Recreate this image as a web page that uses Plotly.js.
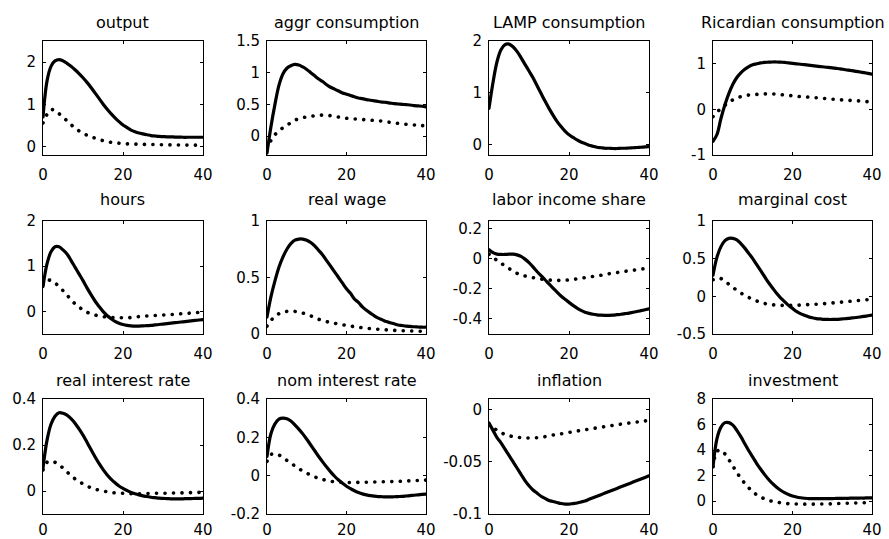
<!DOCTYPE html>
<html>
<head>
<meta charset="utf-8">
<script src="https://cdn.plot.ly/plotly-3.0.1.min.js"></script>
<style>
html,body{margin:0;padding:0;background:#fff;}
#chart{width:889px;height:539px;}
.scatterlayer path.js-line{stroke-linecap:round !important;}
</style>
</head>
<body>
<div id="chart"></div>
<script>
// ---------------- DATA ----------------
const periods = [0,1,2,3,4,5,6,7,8,9,10,11,12,13,14,15,16,17,18,19,20,21,22,23,24,25,26,27,28,29,30,31,32,33,34,35,36,37,38,39,40];

const titles = ["output","aggr consumption","LAMP consumption","Ricardian consumption",
                "hours","real wage","labor income share","marginal cost",
                "real interest rate","nom interest rate","inflation","investment"];

const outputSolid = [0.7,1.55,1.9,2.03,2.06,2.03,1.97,1.9,1.82,1.73,1.63,1.52,1.4,1.27,1.14,1.01,0.89,0.78,0.68,0.59,0.51,0.45,0.39,0.35,0.32,0.3,0.28,0.26,0.25,0.24,0.235,0.23,0.23,0.225,0.225,0.22,0.22,0.22,0.22,0.22,0.22];
const outputDot = [0.56,0.76,0.87,0.86,0.78,0.7,0.61,0.52,0.44,0.37,0.31,0.27,0.23,0.2,0.17,0.14,0.12,0.1,0.09,0.08,0.07,0.065,0.06,0.058,0.055,0.053,0.05,0.049,0.047,0.045,0.044,0.042,0.04,0.039,0.038,0.036,0.035,0.034,0.033,0.032,0.03];

const aggrSolid = [-0.27,0.15,0.5,0.8,0.98,1.07,1.11,1.13,1.12,1.09,1.05,1.0,0.95,0.9,0.86,0.81,0.77,0.74,0.71,0.68,0.66,0.64,0.62,0.6,0.59,0.575,0.565,0.555,0.545,0.535,0.53,0.52,0.51,0.505,0.5,0.495,0.49,0.48,0.475,0.47,0.46];
const aggrDot = [-0.2,-0.07,0.02,0.08,0.13,0.17,0.21,0.25,0.27,0.29,0.3,0.31,0.32,0.325,0.33,0.325,0.32,0.31,0.3,0.29,0.28,0.275,0.27,0.265,0.26,0.255,0.25,0.245,0.24,0.235,0.225,0.215,0.205,0.2,0.195,0.185,0.18,0.175,0.17,0.165,0.16];

const lampSolid = [0.7,1.2,1.6,1.83,1.93,1.94,1.89,1.8,1.68,1.55,1.42,1.29,1.14,0.99,0.84,0.7,0.57,0.45,0.35,0.26,0.19,0.14,0.09,0.05,0.02,-0.01,-0.03,-0.05,-0.06,-0.07,-0.07,-0.075,-0.075,-0.07,-0.07,-0.065,-0.06,-0.055,-0.05,-0.045,-0.04];
const lampDot = [];

const ricSolid = [-0.7,-0.55,-0.2,0.1,0.35,0.55,0.7,0.8,0.88,0.94,0.98,1.0,1.02,1.03,1.035,1.04,1.04,1.035,1.03,1.02,1.01,1.0,0.99,0.98,0.97,0.96,0.95,0.94,0.93,0.92,0.91,0.9,0.89,0.875,0.86,0.85,0.835,0.82,0.805,0.79,0.775];
const ricDot = [-0.16,-0.06,0.02,0.09,0.16,0.21,0.25,0.28,0.3,0.315,0.325,0.33,0.335,0.34,0.34,0.34,0.335,0.325,0.315,0.305,0.3,0.29,0.28,0.275,0.27,0.26,0.255,0.25,0.24,0.235,0.225,0.22,0.21,0.205,0.2,0.195,0.19,0.185,0.175,0.17,0.165];

const hoursSolid = [0.55,1.05,1.32,1.43,1.43,1.36,1.27,1.13,0.98,0.83,0.68,0.52,0.37,0.23,0.11,0.0,-0.09,-0.16,-0.22,-0.26,-0.29,-0.31,-0.32,-0.325,-0.325,-0.32,-0.315,-0.31,-0.3,-0.29,-0.28,-0.27,-0.26,-0.25,-0.24,-0.23,-0.22,-0.21,-0.2,-0.19,-0.18];
const hoursDot = [0.6,0.7,0.68,0.63,0.55,0.46,0.36,0.26,0.17,0.1,0.03,-0.02,-0.05,-0.08,-0.1,-0.115,-0.125,-0.135,-0.14,-0.14,-0.14,-0.14,-0.135,-0.125,-0.115,-0.11,-0.1,-0.095,-0.09,-0.085,-0.08,-0.075,-0.07,-0.065,-0.055,-0.05,-0.045,-0.035,-0.03,-0.02,-0.015];

const wageSolid = [0.15,0.33,0.47,0.59,0.68,0.75,0.8,0.83,0.84,0.84,0.83,0.81,0.78,0.74,0.7,0.65,0.6,0.55,0.5,0.45,0.4,0.36,0.31,0.28,0.24,0.21,0.185,0.16,0.14,0.125,0.11,0.1,0.09,0.08,0.075,0.07,0.067,0.064,0.062,0.06,0.06];
const wageDot = [0.07,0.12,0.155,0.18,0.195,0.2,0.205,0.2,0.195,0.185,0.175,0.16,0.145,0.13,0.12,0.11,0.1,0.095,0.088,0.082,0.076,0.07,0.065,0.06,0.056,0.052,0.048,0.045,0.042,0.04,0.037,0.034,0.032,0.03,0.029,0.028,0.027,0.026,0.025,0.024,0.023];

const laborSolid = [0.06,0.04,0.03,0.028,0.028,0.03,0.03,0.025,0.015,-0.003,-0.027,-0.055,-0.085,-0.113,-0.14,-0.168,-0.195,-0.222,-0.248,-0.27,-0.29,-0.31,-0.328,-0.343,-0.355,-0.363,-0.369,-0.373,-0.375,-0.376,-0.376,-0.375,-0.372,-0.369,-0.365,-0.361,-0.356,-0.351,-0.345,-0.339,-0.333];
const laborDot = [0.03,0.01,-0.012,-0.03,-0.048,-0.065,-0.082,-0.097,-0.108,-0.115,-0.12,-0.126,-0.131,-0.135,-0.139,-0.142,-0.143,-0.144,-0.144,-0.143,-0.141,-0.138,-0.134,-0.13,-0.126,-0.122,-0.118,-0.114,-0.11,-0.105,-0.1,-0.096,-0.092,-0.088,-0.084,-0.08,-0.077,-0.073,-0.069,-0.066,-0.063];

const mcSolid = [0.28,0.52,0.66,0.74,0.77,0.77,0.75,0.7,0.64,0.57,0.5,0.42,0.34,0.26,0.18,0.11,0.04,-0.02,-0.07,-0.12,-0.16,-0.2,-0.23,-0.25,-0.27,-0.285,-0.295,-0.3,-0.305,-0.307,-0.307,-0.305,-0.302,-0.298,-0.293,-0.287,-0.281,-0.274,-0.266,-0.258,-0.25];
const mcDot = [0.22,0.24,0.235,0.2,0.16,0.12,0.08,0.045,0.013,-0.015,-0.04,-0.062,-0.08,-0.095,-0.105,-0.112,-0.117,-0.12,-0.121,-0.121,-0.12,-0.118,-0.116,-0.113,-0.11,-0.107,-0.104,-0.1,-0.097,-0.093,-0.088,-0.083,-0.078,-0.073,-0.068,-0.063,-0.058,-0.053,-0.048,-0.044,-0.04];

const rirSolid = [0.1,0.22,0.29,0.325,0.34,0.338,0.33,0.315,0.295,0.27,0.243,0.212,0.18,0.149,0.12,0.094,0.071,0.052,0.036,0.022,0.011,0.002,-0.006,-0.012,-0.017,-0.021,-0.024,-0.027,-0.029,-0.031,-0.032,-0.033,-0.034,-0.034,-0.034,-0.034,-0.033,-0.033,-0.032,-0.032,-0.031];
const rirDot = [0.092,0.125,0.13,0.125,0.114,0.1,0.083,0.068,0.053,0.041,0.031,0.022,0.014,0.008,0.004,0.0,-0.003,-0.006,-0.008,-0.009,-0.01,-0.011,-0.012,-0.012,-0.012,-0.012,-0.011,-0.011,-0.01,-0.01,-0.01,-0.01,-0.009,-0.009,-0.009,-0.008,-0.008,-0.007,-0.007,-0.006,-0.006];

const nirSolid = [0.1,0.22,0.27,0.295,0.3,0.297,0.285,0.265,0.243,0.218,0.19,0.16,0.13,0.1,0.072,0.045,0.02,-0.003,-0.023,-0.04,-0.055,-0.068,-0.079,-0.088,-0.095,-0.1,-0.104,-0.107,-0.109,-0.11,-0.111,-0.111,-0.11,-0.109,-0.108,-0.106,-0.104,-0.102,-0.1,-0.098,-0.096];
const nirDot = [0.075,0.11,0.115,0.108,0.095,0.08,0.066,0.051,0.037,0.024,0.013,0.003,-0.006,-0.014,-0.02,-0.025,-0.029,-0.032,-0.034,-0.035,-0.036,-0.036,-0.036,-0.035,-0.035,-0.034,-0.034,-0.033,-0.033,-0.032,-0.032,-0.031,-0.031,-0.03,-0.029,-0.028,-0.027,-0.026,-0.025,-0.024,-0.023];

const inflSolid = [-0.013,-0.02,-0.027,-0.032,-0.038,-0.044,-0.05,-0.056,-0.062,-0.068,-0.073,-0.077,-0.08,-0.083,-0.085,-0.087,-0.088,-0.089,-0.09,-0.0905,-0.0905,-0.09,-0.0895,-0.0885,-0.0875,-0.086,-0.0845,-0.083,-0.0815,-0.08,-0.0785,-0.077,-0.0755,-0.074,-0.0725,-0.071,-0.0695,-0.068,-0.0665,-0.065,-0.0635];
const inflDot = [-0.014,-0.017,-0.02,-0.022,-0.024,-0.025,-0.026,-0.0265,-0.027,-0.0272,-0.0273,-0.0272,-0.027,-0.0265,-0.026,-0.0253,-0.0245,-0.0238,-0.0233,-0.0227,-0.022,-0.0213,-0.0207,-0.02,-0.0194,-0.0188,-0.0182,-0.0176,-0.017,-0.0164,-0.0158,-0.0152,-0.0146,-0.014,-0.0135,-0.013,-0.0125,-0.012,-0.0115,-0.011,-0.0105];

const invSolid = [2.7,4.9,5.8,6.15,6.15,5.95,5.55,5.05,4.5,3.95,3.45,2.95,2.5,2.08,1.7,1.37,1.09,0.86,0.67,0.52,0.41,0.33,0.27,0.23,0.21,0.2,0.2,0.2,0.2,0.21,0.21,0.22,0.22,0.23,0.23,0.24,0.24,0.25,0.25,0.26,0.26];
const invDot = [2.7,3.9,4.0,3.7,3.25,2.75,2.25,1.8,1.4,1.05,0.75,0.5,0.32,0.18,0.07,-0.01,-0.07,-0.12,-0.16,-0.19,-0.21,-0.22,-0.225,-0.23,-0.23,-0.23,-0.225,-0.22,-0.215,-0.21,-0.2,-0.19,-0.18,-0.17,-0.16,-0.15,-0.14,-0.13,-0.12,-0.11,-0.1];

const solidSeries = [outputSolid,aggrSolid,lampSolid,ricSolid,hoursSolid,wageSolid,laborSolid,mcSolid,rirSolid,nirSolid,inflSolid,invSolid];
const dotSeries   = [outputDot,aggrDot,lampDot,ricDot,hoursDot,wageDot,laborDot,mcDot,rirDot,nirDot,inflDot,invDot];

const yRanges = [[-0.2,2.5],[-0.3,1.5],[-0.2,2],[-1,1.5],[-0.5,2],[0,1],[-0.5,0.25],[-0.5,1],[-0.1,0.4],[-0.2,0.4],[-0.1,0.01],[-1,8]];
const yTickVals = [[0,1,2],[0,0.5,1,1.5],[0,1,2],[-1,0,1],[0,1,2],[0,0.5,1],[-0.4,-0.2,0,0.2],[-0.5,0,0.5,1],[0,0.2,0.4],[-0.2,0,0.2,0.4],[-0.1,-0.05,0],[0,2,4,6,8]];
const yTickText = [["0","1","2"],["0","0.5","1","1.5"],["0","1","2"],["-1","0","1"],["0","1","2"],["0","0.5","1"],["-0.4","-0.2","0","0.2"],["-0.5","0","0.5","1"],["0","0.2","0.4"],["-0.2","0","0.2","0.4"],["-0.1","-0.05","0"],["0","2","4","6","8"]];
const xTickVals = [0,20,40];
const xTickText = ["0","20","40"];

// ---------------- LAYOUT ----------------
const W = 889, H = 539;
const colPx = [[43,203],[267,426],[489,649],[713,872]];
const rowPx = [[41,155],[221,334],[399,514]];
const titleY = [22,199,380];
const xStandoff = [6,6,2];
const FONT = "DejaVu Sans, Liberation Sans, Arial, sans-serif";

const data = [];
const layout = {
  width: W, height: H,
  margin: {l:0,r:0,t:0,b:0},
  paper_bgcolor: "#fff", plot_bgcolor: "#fff",
  showlegend: false,
  font: {family: FONT, size: 15, color: "#000"},
  annotations: []
};

for (let k = 0; k < 12; k++) {
  const r = Math.floor(k/4), c = k % 4;
  const sfx = k === 0 ? "" : String(k+1);
  const xa = "x" + sfx, ya = "y" + sfx;
  data.push({x: periods, y: solidSeries[k], xaxis: xa, yaxis: ya, type: "scatter", mode: "lines",
             line: {color: "#000", width: 3.2, shape: "spline", smoothing: 1}, hoverinfo: "skip"});
  if (dotSeries[k].length) {
    data.push({x: periods, y: dotSeries[k], xaxis: xa, yaxis: ya, type: "scatter", mode: "lines",
               line: {color: "#000", width: 3.6, dash: "0.1px,8.4px", shape: "spline", smoothing: 1}, hoverinfo: "skip"});
  }
  const axCommon = {showgrid: false, zeroline: false, showline: true, linecolor: "#000", linewidth: 1,
                    mirror: "ticks", ticks: "inside", ticklen: 3, tickcolor: "#000", tickwidth: 1,
                    tickfont: {family: FONT, size: 15, color: "#000"}, fixedrange: true};
  layout["xaxis" + sfx] = Object.assign({}, axCommon, {
    domain: [colPx[c][0]/W, colPx[c][1]/W], anchor: ya, range: [0,40],
    tickmode: "array", tickvals: xTickVals, ticktext: xTickText, ticklabelstandoff: xStandoff[r]
  });
  layout["yaxis" + sfx] = Object.assign({}, axCommon, {
    domain: [1 - rowPx[r][1]/H, 1 - rowPx[r][0]/H], anchor: xa, range: yRanges[k],
    tickmode: "array", tickvals: yTickVals[k], ticktext: yTickText[k], ticklabelstandoff: 3
  });
  layout.annotations.push({
    text: titles[k], xref: "paper", yref: "paper",
    x: (colPx[c][0] + colPx[c][1]) / 2 / W, y: 1 - titleY[r]/H,
    xanchor: "center", yanchor: "middle", showarrow: false,
    font: {family: FONT, size: 16, color: "#000"}
  });
}

Plotly.newPlot("chart", data, layout, {staticPlot: true, displayModeBar: false});
</script>
</body>
</html>
